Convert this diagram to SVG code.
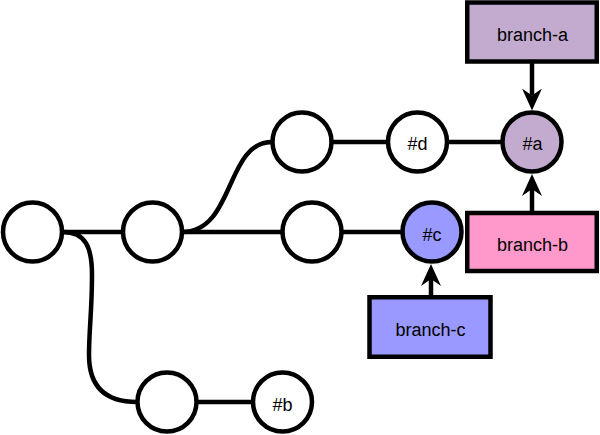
<svg xmlns="http://www.w3.org/2000/svg" width="600" height="435" viewBox="0 0 600 435">
  <style>
    .n { fill: #ffffff; stroke: #000000; stroke-width: 4.5; }
    .box { stroke: #000000; stroke-width: 4.5; }
    .e { fill: none; stroke: #000000; stroke-width: 4.5; }
    .t { font-family: "Liberation Sans", Arial, Helvetica, sans-serif; font-size: 18px; fill: #000000; text-anchor: middle; }
  </style>
  <defs>
    <marker id="arr" markerUnits="userSpaceOnUse" markerWidth="22" markerHeight="20" viewBox="0 0 22 20" refX="7" refY="10" orient="auto">
      <path d="M0,0 L22,10 L0,20 L7,10 Z" fill="#000000"/>
    </marker>
  </defs>
  <rect width="600" height="435" fill="#ffffff"/>
  <g id="connectors">
    <line class="e" x1="63" y1="232" x2="122" y2="232"/>
    <line class="e" x1="182" y1="232" x2="282" y2="232"/>
    <line class="e" x1="342" y1="232" x2="402" y2="232"/>
    <line class="e" x1="332" y1="142" x2="388" y2="142"/>
    <line class="e" x1="447" y1="142" x2="502" y2="142"/>
    <line class="e" x1="197" y1="402" x2="253" y2="402"/>
    <path class="e" d="M182,232 C235,232 225,142 272,142"/>
    <path class="e" d="M63,232 C86,232 92,248 92,275 C92,310 89,330 89,355 C89,385 104,402 137,402"/>
    <line class="e" x1="532" y1="62" x2="532" y2="95.5" marker-end="url(#arr)"/>
    <line class="e" x1="532" y1="211" x2="532" y2="189" marker-end="url(#arr)"/>
    <line class="e" x1="431" y1="297" x2="431" y2="279" marker-end="url(#arr)"/>
  </g>
  <g id="node1"><circle class="n" cx="32.5" cy="232" r="29.5"/></g>
  <g id="node2"><circle class="n" cx="152.5" cy="232" r="29.5"/></g>
  <g id="node3"><circle class="n" cx="302" cy="142" r="29.5"/></g>
  <g id="node-d"><circle class="n" cx="417.5" cy="142" r="29.5"/><text class="t" x="417.5" y="150">#d</text></g>
  <g id="node-a"><circle class="n" cx="532" cy="142" r="29.5" style="fill:#C3ABD0"/><text class="t" x="532.5" y="150">#a</text></g>
  <g id="node4"><circle class="n" cx="312" cy="232" r="29.5"/></g>
  <g id="node-c"><circle class="n" cx="432" cy="232" r="29.5" style="fill:#9999FF"/><text class="t" x="432" y="240.5">#c</text></g>
  <g id="node5"><circle class="n" cx="167" cy="402" r="29.5"/></g>
  <g id="node-b"><circle class="n" cx="282.5" cy="402" r="29.5"/><text class="t" x="282.5" y="410.5">#b</text></g>
  <g id="branch-a"><rect class="box" x="467.25" y="2.5" width="129.5" height="59" fill="#C3ABD0"/><text class="t" x="532.5" y="40.5">branch-a</text></g>
  <g id="branch-b"><rect class="box" x="467.25" y="213" width="129.5" height="58" fill="#FF99CC"/><text class="t" x="532.5" y="250.5">branch-b</text></g>
  <g id="branch-c"><rect class="box" x="369.5" y="297.25" width="121" height="59.5" fill="#9999FF"/><text class="t" x="430.5" y="336">branch-c</text></g>
</svg>
